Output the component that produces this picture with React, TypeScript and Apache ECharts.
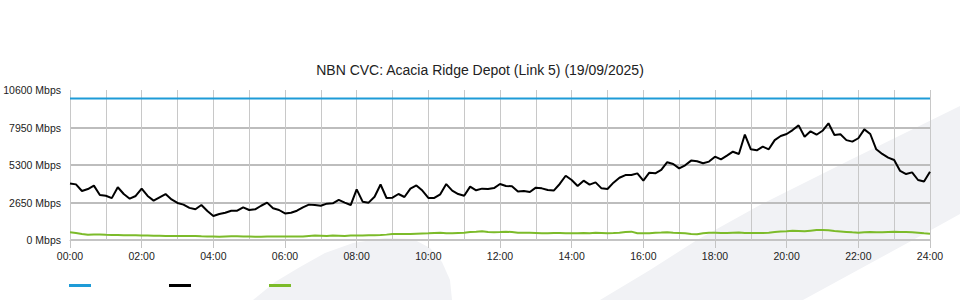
import React, { useEffect, useRef } from "react";
import * as echarts from "echarts";

const TITLE = "NBN CVC: Acacia Ridge Depot (Link 5) (19/09/2025)";
const Y_MAX = 10600;
const Y_STEP = 2650;
const CAPACITY_MBPS = 10000;

// 10-minute samples, 00:00 .. 24:00 (Mbps)
const INBOUND = [
  4000, 3930, 3460, 3600, 3840, 3180, 3130, 2960, 3730, 3250, 2920, 3110,
  3630, 3110, 2780, 3020, 3250, 2870, 2620, 2500, 2270, 2170, 2470, 2050,
  1700, 1840, 1930, 2070, 2070, 2310, 2120, 2170, 2420, 2640, 2240, 2120,
  1880, 1930, 2070, 2310, 2500, 2470, 2420, 2570, 2590, 2830, 2640, 2470,
  3580, 2710, 2640, 3060, 3920, 2970, 2990, 3250, 3040, 3630, 3860, 3490,
  2970, 2970, 3230, 3950, 3490, 3250, 3130, 3770, 3510, 3630, 3600, 3670,
  3960, 3820, 3790, 3420, 3460, 3390, 3700, 3650, 3530, 3490, 3960, 4540,
  4240, 3820, 4190, 3910, 4070, 3650, 3600, 4050, 4400, 4590, 4590, 4710,
  4200, 4760, 4710, 4950, 5500, 5370, 5060, 5280, 5610, 5560, 5420, 5540,
  5890, 5700, 5960, 6240, 6080, 7450, 6410, 6340, 6600, 6410, 7060, 7350,
  7490, 7770, 8100, 7300, 7680, 7440, 7720, 8250, 7420, 7470, 7060, 6950,
  7190, 7820, 7490, 6410, 6080, 5820, 5650, 4880, 4660, 4780, 4240, 4140,
  4830,
];

const OUTBOUND = [
  540, 500, 430, 370, 380, 390, 370, 360, 350, 330, 330, 340,
  310, 310, 300, 300, 290, 290, 290, 290, 290, 280, 260, 250,
  240, 230, 250, 260, 260, 250, 240, 230, 230, 240, 250, 250,
  240, 240, 240, 250, 290, 310, 300, 290, 310, 300, 290, 310,
  320, 320, 330, 330, 350, 380, 420, 420, 430, 430, 450, 460,
  470, 500, 520, 480, 470, 500, 520, 560, 580, 610, 570, 540,
  560, 590, 560, 520, 520, 510, 500, 480, 480, 500, 490, 470,
  480, 480, 490, 480, 510, 500, 480, 490, 510, 560, 590, 480,
  470, 470, 520, 530, 550, 520, 500, 470, 430, 410, 470, 520,
  510, 500, 490, 520, 530, 500, 490, 500, 500, 520, 560, 600,
  620, 650, 640, 620, 660, 700, 710, 690, 630, 600, 570, 540,
  520, 550, 560, 550, 540, 560, 580, 570, 560, 540, 520, 480,
  450,
];

const TIMES: string[] = INBOUND.map((_, i) => {
  const m = i * 10;
  const hh = String(Math.floor(m / 60)).padStart(2, "0");
  const mm = String(m % 60).padStart(2, "0");
  return `${hh}:${mm}`;
});

const CAPACITY = INBOUND.map(() => CAPACITY_MBPS);

const SERIES_NAMES = ["Capacity", "Inbound", "Outbound"];
const COLORS = ["#1e9bd7", "#000000", "#7cbb2a"];

const FONT = "'Liberation Sans', Arial, Helvetica, sans-serif";

export default function App() {
  const ref = useRef<HTMLDivElement>(null);

  useEffect(() => {
    if (!ref.current) return;
    const chart = echarts.init(ref.current, undefined, { renderer: "svg" });
    const wm = "#f1f2f5";
    chart.setOption({
      animation: false,
      backgroundColor: "#ffffff",
      textStyle: { fontFamily: FONT },
      title: {
        text: TITLE,
        left: "center",
        top: 63,
        padding: 0,
        textStyle: { fontFamily: FONT, fontSize: 14, fontWeight: "normal", color: "#222" },
      },
      graphic: [
        {
          type: "polygon",
          z: -10,
          silent: true,
          shape: {
            points: [
              [253, 300], [275, 282], [300, 267], [325, 253], [353, 243],
              [385, 238], [413, 239], [430, 248], [442, 262], [450, 280], [452, 300],
            ],
          },
          style: { fill: wm },
        },
        {
          type: "polygon",
          z: -10,
          silent: true,
          shape: {
            points: [
              [600, 300], [650, 270], [697, 240], [760, 205], [850, 160], [960, 106],
              [960, 214], [913, 240], [803, 300],
            ],
          },
          style: { fill: wm },
        },
      ],
      legend: {
        left: 69,
        top: 284,
        padding: 0,
        icon: "rect",
        itemWidth: 22,
        itemHeight: 3,
        itemGap: 78,
        formatter: () => "",
        selectedMode: false,
        data: SERIES_NAMES,
      },
      grid: { left: 70, right: 30, top: 90, bottom: 60, containLabel: false },
      xAxis: {
        type: "category",
        data: TIMES,
        boundaryGap: false,
        axisLine: { show: true, lineStyle: { color: "#c4c4c4", width: 1 } },
        axisTick: { show: true, interval: 11, length: 8, lineStyle: { color: "#c4c4c4" } },
        axisLabel: {
          interval: 11,
          margin: 10,
          fontSize: 10.5,
          color: "#222",
          fontFamily: FONT,
          showMaxLabel: true,
        },
        splitLine: { show: true, interval: 5, lineStyle: { color: "#c8c8c8", width: 1 } },
      },
      yAxis: {
        type: "value",
        min: 0,
        max: Y_MAX,
        interval: Y_STEP,
        axisLine: { show: false },
        axisTick: { show: false },
        axisLabel: {
          formatter: (v: number) => `${v} Mbps`,
          fontSize: 10.5,
          color: "#222",
          fontFamily: FONT,
          margin: 9,
          padding: [0, 0, 6, 0],
        },
        splitLine: {
          show: true,
          lineStyle: {
            color: ["#c4c4c4", "#bdbdbd", "#bdbdbd", "#bdbdbd", "rgba(0,0,0,0)"],
            width: 2,
          },
        },
      },
      series: [
        {
          name: SERIES_NAMES[0],
          type: "line",
          data: CAPACITY,
          showSymbol: false,
          symbol: "none",
          lineStyle: { color: COLORS[0], width: 2 },
          itemStyle: { color: COLORS[0] },
          z: 3,
        },
        {
          name: SERIES_NAMES[1],
          type: "line",
          data: INBOUND,
          showSymbol: false,
          symbol: "none",
          lineStyle: { color: COLORS[1], width: 2 },
          itemStyle: { color: COLORS[1] },
          z: 4,
        },
        {
          name: SERIES_NAMES[2],
          type: "line",
          data: OUTBOUND,
          showSymbol: false,
          symbol: "none",
          lineStyle: { color: COLORS[2], width: 2 },
          itemStyle: { color: COLORS[2] },
          z: 3,
        },
      ],
    });
    return () => chart.dispose();
  }, []);

  return (
    <div
      ref={ref}
      style={{ position: "fixed", left: 0, top: 0, width: 960, height: 300 }}
    />
  );
}
